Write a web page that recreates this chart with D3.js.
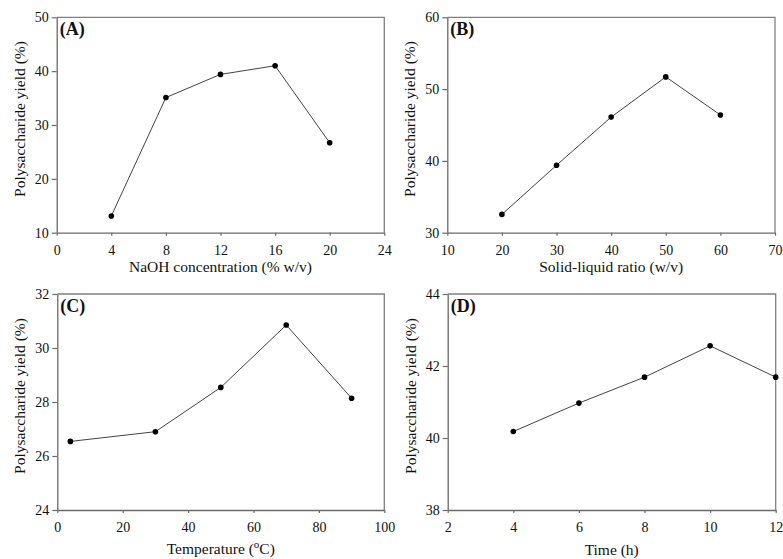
<!DOCTYPE html>
<html><head><meta charset="utf-8">
<script src="https://cdn.jsdelivr.net/npm/d3@7/dist/d3.min.js"></script>
<style>body{margin:0;background:#fff}svg{display:block}text{font-family:"Liberation Serif","Times New Roman",serif;fill:#111}</style>
</head><body><svg id="c" width="783" height="559"></svg>
<script>
const xA = [4, 8, 12, 16, 20];
const yA = [13.1, 35.1, 39.4, 41.0, 26.7];
const xB = [20, 30, 40, 50, 60];
const yB = [32.55, 39.4, 46.1, 51.7, 46.4];
const xC = [4, 30, 50, 70, 90];
const yC = [26.54, 26.9, 28.54, 30.85, 28.14];
const xD = [4, 6, 8, 10, 12];
const yD = [40.18, 40.97, 41.69, 42.56, 41.69];

const xTicksA = [0, 4, 8, 12, 16, 20, 24];
const yTicksA = [10, 20, 30, 40, 50];
const xTicksB = [10, 20, 30, 40, 50, 60, 70];
const yTicksB = [30, 40, 50, 60];
const xTicksC = [0, 20, 40, 60, 80, 100];
const yTicksC = [24, 26, 28, 30, 32];
const xTicksD = [2, 4, 6, 8, 10, 12];
const yTicksD = [38, 40, 42, 44];

const panels = [
  {label:"(A)", xs:xA, ys:yA, xt:xTicksA, yt:yTicksA, xTitle:"NaOH concentration (% w/v)", box:[56.7,384.3,17.3,232.7], tp:9, tb:39},
  {label:"(B)", xs:xB, ys:yB, xt:xTicksB, yt:yTicksB, xTitle:"Solid-liquid ratio (w/v)", box:[447.3,775,17.3,232.7], tp:9, tb:39},
  {label:"(C)", xs:xC, ys:yC, xt:xTicksC, yt:yTicksC, xTitle:"TEMP", box:[57.3,384.3,294,510], tp:9, tb:44},
  {label:"(D)", xs:xD, ys:yD, xt:xTicksD, yt:yTicksD, xTitle:"Time (h)", box:[447.7,775.7,294,510], tp:9, tb:45}
];
const yTitle = "Polysaccharide yield (%)";
const svg = d3.select("#c");
const FS = 14;

panels.forEach(p => {
  const [l, r, t, b] = p.box;
  const x = d3.scaleLinear().domain(d3.extent(p.xt)).range([l, r]);
  const y = d3.scaleLinear().domain(d3.extent(p.yt)).range([b, t]);
  const g = svg.append("g");
  g.append("path").attr("d", `M${l},${t}H${r}V${b}`).attr("fill","none").attr("stroke","#808080").attr("stroke-width",1.3);
  const xa = g.append("g").attr("transform",`translate(0,${b})`)
    .call(d3.axisBottom(x).tickValues(p.xt).tickSizeInner(3).tickSizeOuter(0).tickPadding(p.tp).tickFormat(d3.format("d")));
  const ya = g.append("g").attr("transform",`translate(${l},0)`)
    .call(d3.axisLeft(y).tickValues(p.yt).tickSizeInner(5).tickSizeOuter(0).tickPadding(3).tickFormat(d3.format("d")));
  [xa, ya].forEach(a => {
    a.select(".domain").attr("stroke","#6a6a6a").attr("stroke-width",1.3);
    a.selectAll(".tick line").attr("stroke","#6a6a6a").attr("stroke-width",1.2);
    a.selectAll(".tick text").attr("font-family",'"Liberation Serif",serif').attr("font-size",FS).attr("fill","#111");
  });
  const data = p.xs.map((v,i)=>[v,p.ys[i]]);
  g.append("path").datum(data)
    .attr("d", d3.line().x(d=>x(d[0])).y(d=>y(d[1])))
    .attr("fill","none").attr("stroke","#444").attr("stroke-width",1);
  g.selectAll("circle").data(data).join("circle")
    .attr("cx",d=>x(d[0])).attr("cy",d=>y(d[1])).attr("r",2.8).attr("fill","#000");
  g.append("text").attr("x", l+3).attr("y", t+18).attr("font-size",18).attr("font-weight","bold").text(p.label);
  const xt = g.append("text").attr("x",(l+r)/2).attr("y", b+p.tb).attr("text-anchor","middle").attr("font-size",15.5);
  if (p.xTitle === "TEMP") {
    xt.append("tspan").text("Temperature (");
    xt.append("tspan").attr("font-size",11).attr("dy",-6).text("o");
    xt.append("tspan").attr("dy",6).text("C)");
  } else xt.text(p.xTitle);
  g.append("text").attr("transform",`translate(${l-32},${(t+b)/2-6}) rotate(-90)`)
    .attr("text-anchor","middle").attr("font-size",15.5).text(yTitle);
});
</script></body></html>
